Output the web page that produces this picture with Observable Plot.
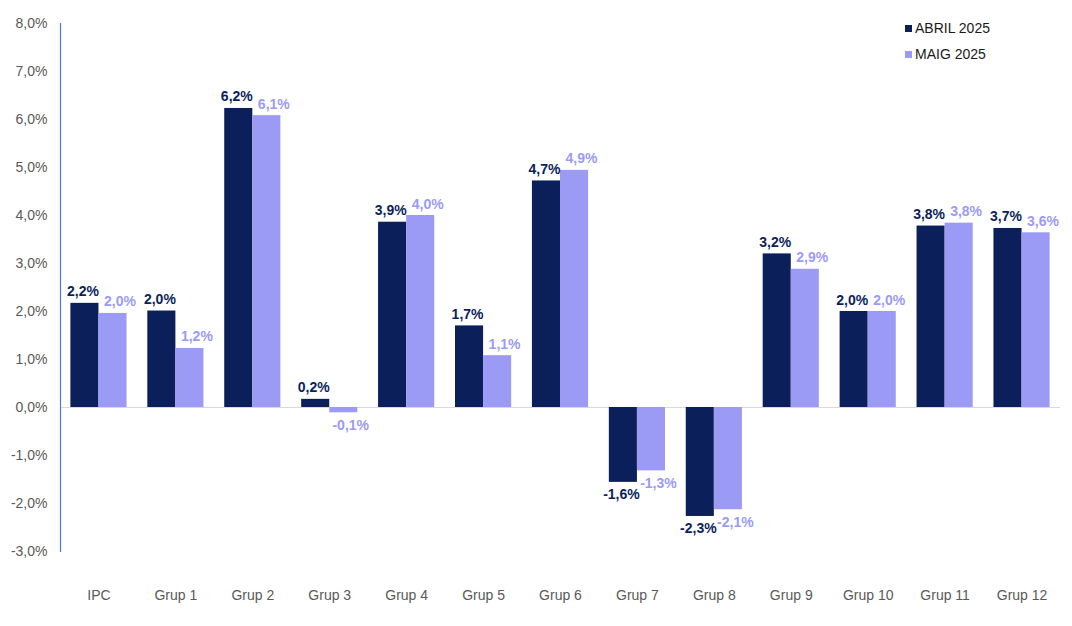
<!DOCTYPE html>
<html>
<head>
<meta charset="utf-8">
<script src="https://cdn.jsdelivr.net/npm/d3@7"></script>
<script src="https://cdn.jsdelivr.net/npm/@observablehq/plot@0.6"></script>
<style>
  html, body { margin: 0; padding: 0; background: #fff; }
  #wrap { position: relative; width: 1072px; height: 626px; font-family: "Liberation Sans", Arial, sans-serif; }
  .legend { position: absolute; left: 905px; top: 15px; font-size: 14px; color: #1a1a1a; }
  .legend div { display: flex; align-items: center; height: 26px; }
  .legend span.sw { display: inline-block; width: 7px; height: 7px; margin-right: 3px; }
</style>
</head>
<body>
<div id="wrap"></div>
<script>
const categories = ["IPC", "Grup 1", "Grup 2", "Grup 3", "Grup 4", "Grup 5", "Grup 6", "Grup 7", "Grup 8", "Grup 9", "Grup 10", "Grup 11", "Grup 12"];
const abril2025 = [2.17, 2.01, 6.23, 0.17, 3.86, 1.70, 4.72, -1.56, -2.27, 3.20, 2.00, 3.78, 3.73];
const maig2025 = [1.96, 1.23, 6.08, -0.11, 4.00, 1.08, 4.94, -1.32, -2.13, 2.88, 2.00, 3.84, 3.64];
const yTicks = [-3, -2, -1, 0, 1, 2, 3, 4, 5, 6, 7, 8];
const seriesNames = ["ABRIL 2025", "MAIG 2025"];
const colors = ["#0b1f5b", "#9b9bf5"];

const locale = d3.formatLocale({decimal: ",", thousands: ".", grouping: [3], currency: ["", "€"], minus: "-"});
const f1 = locale.format(".1f");
const pct = v => f1(v) + "%";

const rowsA = categories.map((c, i) => ({cat: c, v: abril2025[i]}));
const rowsM = categories.map((c, i) => ({cat: c, v: maig2025[i]}));

const W = 1072, ML = 60, MR = 12;
const PI = 0.27, PO = 0.135;
const step = (W - ML - MR) / (categories.length - PI + 2 * PO);
const halfBand = step * (1 - PI) / 2;

const labelStyle = {fontSize: 14, fontWeight: "bold", fontFamily: "Liberation Sans, Arial, sans-serif"};

const chart = Plot.plot({
  width: W,
  height: 626,
  marginLeft: ML,
  marginRight: MR,
  marginTop: 23,
  marginBottom: 75,
  style: {fontFamily: "Liberation Sans, Arial, sans-serif", fontSize: "14px", background: "#fff"},
  x: {domain: categories, paddingInner: PI, paddingOuter: PO, round: false, label: null},
  y: {domain: [-3, 8], label: null},
  marks: [
    Plot.ruleY([0], {stroke: "#d9d9d9", strokeWidth: 1}),
    Plot.barY(rowsA, {x: "cat", y: "v", fill: colors[0], insetRight: halfBand}),
    Plot.barY(rowsM, {x: "cat", y: "v", fill: colors[1], insetLeft: halfBand}),
    Plot.text(rowsA, {filter: d => d.v >= 0, x: "cat", y: "v", text: d => pct(d.v), fill: colors[0], dx: -16, dy: -7, lineAnchor: "bottom", ...labelStyle}),
    Plot.text(rowsA, {filter: d => d.v < 0, x: "cat", y: "v", text: d => pct(d.v), fill: colors[0], dx: -16, dy: 7, lineAnchor: "top", ...labelStyle}),
    Plot.text(rowsM, {filter: d => d.v >= 0, x: "cat", y: "v", text: d => pct(d.v), fill: colors[1], dx: 21, dy: -7, lineAnchor: "bottom", ...labelStyle}),
    Plot.text(rowsM, {filter: d => d.v < 0, x: "cat", y: "v", text: d => pct(d.v), fill: colors[1], dx: 21, dy: 7, lineAnchor: "top", ...labelStyle}),
    Plot.axisY({ticks: yTicks, tickFormat: pct, tickSize: 0, tickPadding: 13, fill: "#595959", fontSize: 14}),
    Plot.axisX({anchor: "bottom", tickSize: 0, tickPadding: 39, fill: "#595959", fontSize: 14, label: null}),
    Plot.frame({anchor: "left", stroke: "#4f7ac7", strokeWidth: 1.2})
  ]
});

const wrap = document.getElementById("wrap");
wrap.appendChild(chart);
const legend = document.createElement("div");
legend.className = "legend";
seriesNames.forEach((n, i) => {
  const row = document.createElement("div");
  const sw = document.createElement("span");
  sw.className = "sw";
  sw.style.background = colors[i];
  row.appendChild(sw);
  row.appendChild(document.createTextNode(n));
  legend.appendChild(row);
});
wrap.appendChild(legend);
</script>
</body>
</html>
